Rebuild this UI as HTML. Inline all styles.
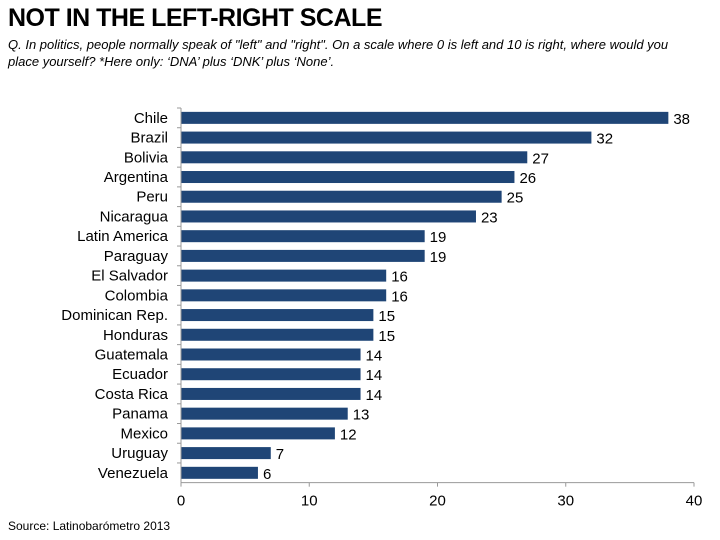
<!DOCTYPE html>
<html><head><meta charset="utf-8"><style>
body{margin:0;background:#fff;width:720px;height:540px;overflow:hidden;font-family:"Liberation Sans",Arial,sans-serif}
</style></head><body>
<div style="position:absolute;left:8px;top:4px;font-size:25px;font-weight:bold;letter-spacing:-0.5px;color:#000">NOT IN THE LEFT-RIGHT SCALE</div>
<div style="position:absolute;left:8px;top:36px;width:664px;font-size:13px;font-style:italic;line-height:17px;color:#000">Q. In politics, people normally speak of "left" and "right". On a scale where 0 is left and 10 is right, where would you place yourself? *Here only: ‘DNA’ plus ‘DNK’ plus ‘None’.</div>
<svg id="c" width="720" height="540" style="position:absolute;left:0;top:0"></svg>
<div style="position:absolute;left:8px;top:519px;font-size:12px;color:#000">Source: Latinobarómetro 2013</div>
<script>
const categories=["Chile","Brazil","Bolivia","Argentina","Peru","Nicaragua","Latin America","Paraguay","El Salvador","Colombia","Dominican Rep.","Honduras","Guatemala","Ecuador","Costa Rica","Panama","Mexico","Uruguay","Venezuela"];
const values=[38,32,27,26,25,23,19,19,16,16,15,15,14,14,14,13,12,7,6];
const ticks=[0,10,20,30,40];
const svg=document.getElementById('c');const NS='http://www.w3.org/2000/svg';
const x0=181,x1=694,top0=108,pitch=19.72,bh=12;
const xs=v=>x0+(x1-x0)*v/40;
const yc=i=>top0+pitch*(i+0.5);
function mk(t,a,txt){const e=document.createElementNS(NS,t);for(const k in a)e.setAttribute(k,a[k]);if(txt!==undefined)e.textContent=txt;svg.appendChild(e);return e;}
const axisY=top0+pitch*categories.length;
categories.forEach((c,i)=>{
 const r=mk('rect',{x:x0,y:yc(i)-bh/2,width:xs(values[i])-x0,height:bh,fill:'#1f4576'});
 
 
 const l=mk('text',{x:x0-13,y:yc(i)+5,'text-anchor':'end','font-size':15,fill:'#000'},c);
 
 
 const v=mk('text',{x:xs(values[i])+5,y:yc(i)+6,'font-size':15,fill:'#000'},values[i]);
 
 
 const t=mk('line',{x1:x0-4,x2:x0,y1:top0+pitch*i,y2:top0+pitch*i,stroke:'#999'});
 
 
});
const ya=mk('line',{x1:x0,x2:x0,y1:top0,y2:axisY,stroke:'#999'});


const xa=mk('line',{x1:x0,x2:x1,y1:axisY,y2:axisY,stroke:'#999'});


ticks.forEach(t=>{
 const tk=mk('line',{x1:xs(t),x2:xs(t),y1:axisY,y2:axisY+4,stroke:'#999'});
 
 
 const tl=mk('text',{x:xs(t),y:axisY+23,'text-anchor':'middle','font-size':15,fill:'#000'},t);
 
 
});
</script>
</body></html>
